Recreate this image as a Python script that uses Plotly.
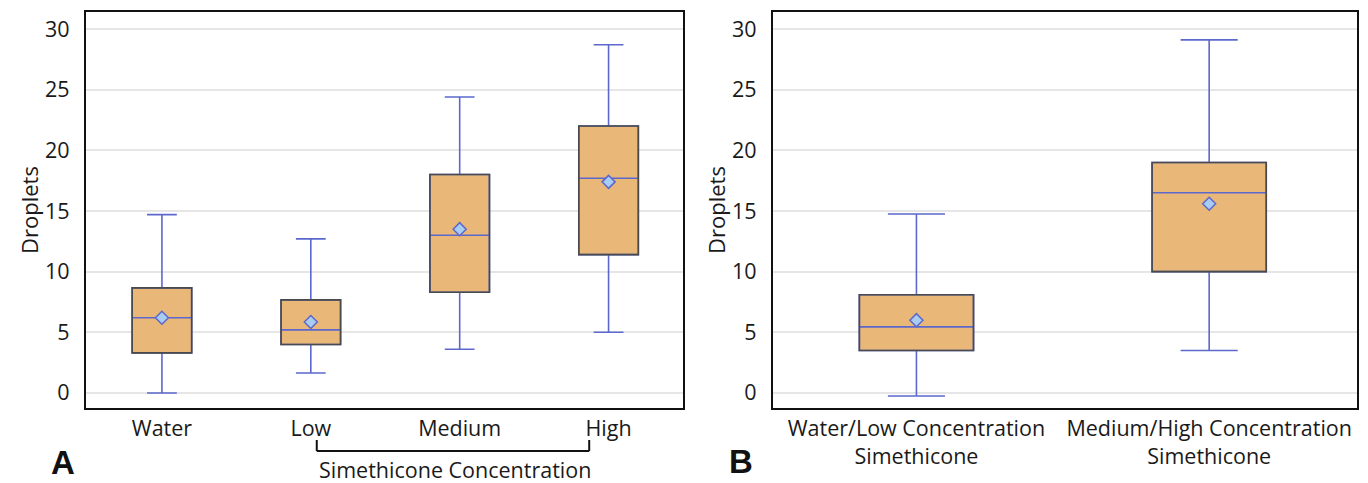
import plotly.graph_objects as go

# ---- Data ----
cats_a = ["Water", "Low", "Medium", "High"]
low_a = [0.0, 1.65, 3.6, 5.0]
q1_a = [3.3, 4.0, 8.3, 11.4]
med_a = [6.2, 5.2, 13.0, 17.7]
q3_a = [8.66, 7.67, 18.0, 22.0]
high_a = [14.7, 12.7, 24.4, 28.7]
mean_a = [6.2, 5.85, 13.5, 17.4]

cats_b = ["Water/Low Concentration<br>Simethicone", "Medium/High Concentration<br>Simethicone"]
low_b = [-0.25, 3.5]
q1_b = [3.5, 10.0]
med_b = [5.45, 16.5]
q3_b = [8.1, 19.0]
high_b = [14.75, 29.1]
mean_b = [6.0, 15.6]

y_ticks = [0, 5, 10, 15, 20, 25, 30]

FILL = "#E9B777"
BLUE = "#5C68CC"
GRAY = "#4A4A4A"
MEANFILL = "#A9CDF2"
FONT = "Open Sans"
W, H = 1368, 483

fig = go.Figure()


def add_panel(cats, lo, q1, med, q3, hi, mean, width, xa, ya, xo, yo):
    fig.add_trace(go.Box(
        x=cats, q1=q1, median=med, q3=q3, lowerfence=lo, upperfence=hi,
        width=width, whiskerwidth=0.5, fillcolor=FILL,
        line=dict(color=BLUE, width=1.6), boxpoints=False,
        xaxis=xa, yaxis=ya, showlegend=False, hoverinfo="skip"))
    fig.add_trace(go.Bar(
        x=cats, base=q1, y=[b - a for a, b in zip(q1, q3)], width=width,
        marker=dict(color="rgba(0,0,0,0)", line=dict(color=GRAY, width=1.6)),
        xaxis=xo, yaxis=yo, showlegend=False, hoverinfo="skip"))
    fig.add_trace(go.Scatter(
        x=cats, y=mean, mode="markers",
        marker=dict(symbol="diamond", size=10, color=MEANFILL,
                    line=dict(color=BLUE, width=1.5)),
        xaxis=xo, yaxis=yo, showlegend=False, hoverinfo="skip"))


add_panel(cats_a, low_a, q1_a, med_a, q3_a, high_a, mean_a, 0.4, "x", "y", "x3", "y3")
add_panel(cats_b, low_b, q1_b, med_b, q3_b, high_b, mean_b, 0.39, "x2", "y2", "x4", "y4")

yr = [-1.24, 31.4]
ydom = [1 - 408 / H, 1 - 12 / H]
xdom_a = [86 / W, 683 / W]
xdom_b = [773 / W, 1357 / W]
xr_a = [-0.51, 3.5]
xr_b = [-0.49, 1.505]

TXT = "#1a1a1a"
tickfont = dict(family=FONT, size=21.5, color=TXT)

common_y = dict(range=yr, tickvals=y_ticks, showgrid=True, gridcolor="#E6E6E6",
                gridwidth=1.5, zeroline=False, showline=True, linecolor="#111",
                linewidth=2.2, mirror=True, ticks="outside", ticklen=10,
                tickcolor="rgba(0,0,0,0)", tickfont=tickfont,
                title=dict(text="Droplets", font=dict(family=FONT, size=22, color=TXT),
                           standoff=0))
common_x = dict(showgrid=False, zeroline=False, showline=True, linecolor="#111",
                linewidth=2.2, mirror=True, ticks="", tickfont=tickfont, type="category")

fig.update_layout(
    width=W, height=H,
    margin=dict(l=0, r=0, t=0, b=0),
    paper_bgcolor="white", plot_bgcolor="white",
    xaxis=dict(domain=xdom_a, range=xr_a, anchor="y", **common_x),
    yaxis=dict(domain=ydom, anchor="x", **common_y),
    xaxis2=dict(domain=xdom_b, range=xr_b, anchor="y2", **common_x),
    yaxis2=dict(domain=ydom, anchor="x2", **common_y),
    xaxis3=dict(overlaying="x", range=xr_a, type="category", visible=False, anchor="y3"),
    yaxis3=dict(overlaying="y", range=yr, visible=False, anchor="x3"),
    xaxis4=dict(overlaying="x2", range=xr_b, type="category", visible=False, anchor="y4"),
    yaxis4=dict(overlaying="y2", range=yr, visible=False, anchor="x4"),
    showlegend=False,
)

# bracket under Low..High
yb_top = 1 - 440 / H
yb_bot = 1 - 451 / H
xl, xr = 1.04, 2.87
for x0, y0, x1, y1 in [(xl, yb_top, xl, yb_bot), (xl, yb_bot, xr, yb_bot), (xr, yb_bot, xr, yb_top)]:
    fig.add_shape(type="line", xref="x", yref="paper", x0=x0, y0=y0, x1=x1, y1=y1,
                  line=dict(color="#111", width=2))

fig.add_annotation(x=1.97, xref="x", y=1 - 469 / H, yref="paper",
                   xanchor="center", yanchor="middle",
                   text="Simethicone Concentration", showarrow=False,
                   font=dict(family=FONT, size=21.5, color=TXT))

fig.add_annotation(x=63 / W, xref="paper", y=1 - 462 / H, yref="paper",
                   xanchor="center", yanchor="middle",
                   text="<b>A</b>", showarrow=False,
                   font=dict(family="Liberation Sans", size=33, color="#111"))
fig.add_annotation(x=741 / W, xref="paper", y=1 - 461 / H, yref="paper",
                   xanchor="center", yanchor="middle",
                   text="<b>B</b>", showarrow=False,
                   font=dict(family="Liberation Sans", size=33, color="#111"))

fig.write_html("out.html", config={"displayModeBar": False},
               post_script="document.body.style.margin='0';document.body.style.overflow='hidden';")
